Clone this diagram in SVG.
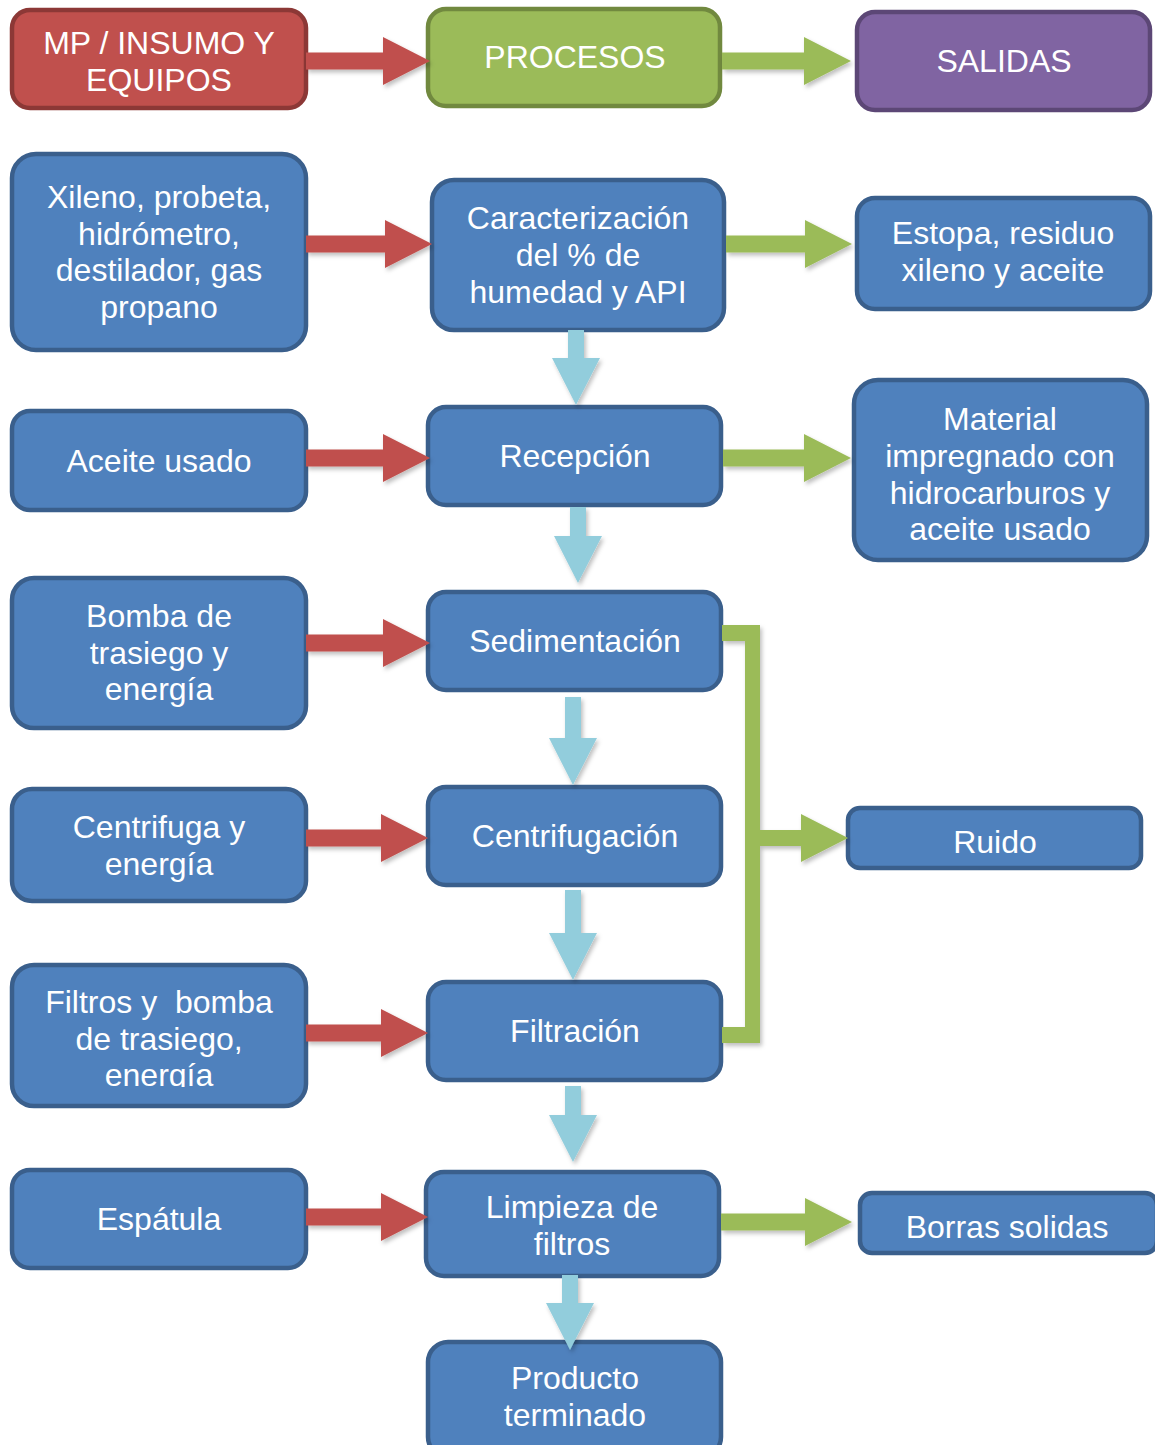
<svg xmlns="http://www.w3.org/2000/svg" width="1155" height="1445" viewBox="0 0 1155 1445">
<style>
.b{fill:#4F81BD;stroke:#3A5F8C;stroke-width:4.5}
.r{fill:#C0504D;stroke:#8C3836;stroke-width:4.5}
.g{fill:#9BBB59;stroke:#71893F;stroke-width:4.5}
.p{fill:#8064A2;stroke:#5C4776;stroke-width:4.5}
text{font-family:"Liberation Sans",Arial,sans-serif;font-size:32px;fill:#FFFFFF;text-anchor:middle}
.ar{fill:#C0504D}
.ag{fill:#9BBB59}
.ad{fill:#92CDDC}
</style>
<defs>
<filter id="sh" x="-20%" y="-20%" width="140%" height="140%">
<feDropShadow dx="2" dy="3" stdDeviation="2" flood-color="#000" flood-opacity="0.25"/>
</filter>
<clipPath id="clipF"><rect x="0" y="960" width="320" height="127"/></clipPath>
</defs>

<g id="hdr-mp"><rect class="r" x="12" y="10" width="294" height="98" rx="18"/><text x="159" y="54">MP / INSUMO Y</text><text x="159" y="91">EQUIPOS</text></g>
<g id="hdr-procesos"><rect class="g" x="428" y="9" width="292" height="97" rx="18"/><text x="575" y="68">PROCESOS</text></g>
<g id="hdr-salidas"><rect class="p" x="857" y="12" width="293" height="98" rx="18"/><text x="1004" y="72">SALIDAS</text></g>

<g id="in-xileno"><rect class="b" x="12" y="154" width="294" height="196" rx="24"/><text x="159" y="208">Xileno, probeta,</text><text x="159" y="245">hidrómetro,</text><text x="159" y="281">destilador, gas</text><text x="159" y="318">propano</text></g>
<g id="p-caract"><rect class="b" x="432" y="180" width="292" height="150" rx="22"/><text x="578" y="229">Caracterización</text><text x="578" y="266">del % de</text><text x="578" y="303">humedad y API</text></g>
<g id="o-estopa"><rect class="b" x="857" y="198" width="293" height="111" rx="18"/><text x="1003" y="244">Estopa, residuo</text><text x="1003" y="281">xileno y aceite</text></g>

<g id="in-aceite"><rect class="b" x="12" y="411" width="294" height="99" rx="18"/><text x="159" y="472">Aceite usado</text></g>
<g id="p-recepcion"><rect class="b" x="428" y="407" width="293" height="98" rx="18"/><text x="575" y="467">Recepción</text></g>
<g id="o-material"><rect class="b" x="854" y="380" width="293" height="180" rx="24"/><text x="1000" y="430">Material</text><text x="1000" y="467">impregnado con</text><text x="1000" y="504">hidrocarburos y</text><text x="1000" y="540">aceite usado</text></g>

<g id="in-bomba"><rect class="b" x="12" y="578" width="294" height="150" rx="22"/><text x="159" y="627">Bomba de</text><text x="159" y="664">trasiego y</text><text x="159" y="700">energía</text></g>
<g id="p-sedimentacion"><rect class="b" x="428" y="592" width="293" height="98" rx="18"/><text x="575" y="652">Sedimentación</text></g>

<g id="in-centrifuga"><rect class="b" x="12" y="789" width="294" height="112" rx="20"/><text x="159" y="838">Centrifuga y</text><text x="159" y="875">energía</text></g>
<g id="p-centrifugacion"><rect class="b" x="428" y="787" width="293" height="98" rx="18"/><text x="575" y="847">Centrifugación</text></g>
<g id="o-ruido"><rect class="b" x="848" y="808" width="293" height="60" rx="12"/><text x="995" y="853">Ruido</text></g>

<g id="in-filtros"><rect class="b" x="12" y="965" width="294" height="141" rx="22"/><g clip-path="url(#clipF)"><text x="159" y="1013" xml:space="preserve">Filtros y  bomba</text><text x="159" y="1050">de trasiego,</text><text x="159" y="1086">energía</text></g></g>
<g id="p-filtracion"><rect class="b" x="428" y="982" width="293" height="98" rx="18"/><text x="575" y="1042">Filtración</text></g>

<g id="in-espatula"><rect class="b" x="12" y="1170" width="294" height="98" rx="18"/><text x="159" y="1230">Espátula</text></g>
<g id="p-limpieza"><rect class="b" x="426" y="1172" width="293" height="104" rx="18"/><text x="572" y="1218">Limpieza de</text><text x="572" y="1255">filtros</text></g>
<g id="o-borras"><rect class="b" x="860" y="1193" width="297" height="60" rx="12"/><text x="1007" y="1238">Borras solidas</text></g>

<g id="p-producto"><rect class="b" x="428" y="1342" width="293" height="115" rx="20"/><text x="575" y="1389">Producto</text><text x="575" y="1426">terminado</text></g>

<g id="connectors" filter="url(#sh)">
<polygon class="ar" points="306,52.5 383,52.5 383,37 430,61 383,85 383,69.5 306,69.5"/>
<polygon class="ar" points="306,235.5 385,235.5 385,220 432,244 385,268 385,252.5 306,252.5"/>
<polygon class="ar" points="306,449.5 383,449.5 383,434 430,458 383,482 383,466.5 306,466.5"/>
<polygon class="ar" points="306,634.5 383,634.5 383,619 430,643 383,667 383,651.5 306,651.5"/>
<polygon class="ar" points="306,829.5 381,829.5 381,814 428,838 381,862 381,846.5 306,846.5"/>
<polygon class="ar" points="306,1024.5 381,1024.5 381,1009 428,1033 381,1057 381,1041.5 306,1041.5"/>
<polygon class="ar" points="306,1208.5 381,1208.5 381,1193 428,1217 381,1241 381,1225.5 306,1225.5"/>
<polygon class="ag" points="722,52.5 804,52.5 804,37 851,61 804,85 804,69.5 722,69.5"/>
<polygon class="ag" points="726,235.5 805,235.5 805,220 852,244 805,268 805,252.5 726,252.5"/>
<polygon class="ag" points="723,449.5 804,449.5 804,434 851,458 804,482 804,466.5 723,466.5"/>
<polygon class="ag" points="721,1213.5 805,1213.5 805,1198 852,1222 805,1246 805,1230.5 721,1230.5"/>
<polygon class="ag" points="722,625 760,625 760,830 801,830 801,814 848,838 801,862 801,846 760,846 760,1043 722,1043 722,1027 745,1027 745,641 722,641"/>
<polygon class="ad" points="568,330 584,330 584,358 600,358 576,405 552,358 568,358"/>
<polygon class="ad" points="570,507 586,507 586,536 602,536 578,583 554,536 570,536"/>
<polygon class="ad" points="565,697 581,697 581,738 597,738 573,785 549,738 565,738"/>
<polygon class="ad" points="565,890 581,890 581,933 597,933 573,980 549,933 565,933"/>
<polygon class="ad" points="565,1086 581,1086 581,1115 597,1115 573,1162 549,1115 565,1115"/>
<polygon class="ad" points="562,1275 578,1275 578,1303 594,1303 570,1350 546,1303 562,1303"/>
</g>
</svg>
